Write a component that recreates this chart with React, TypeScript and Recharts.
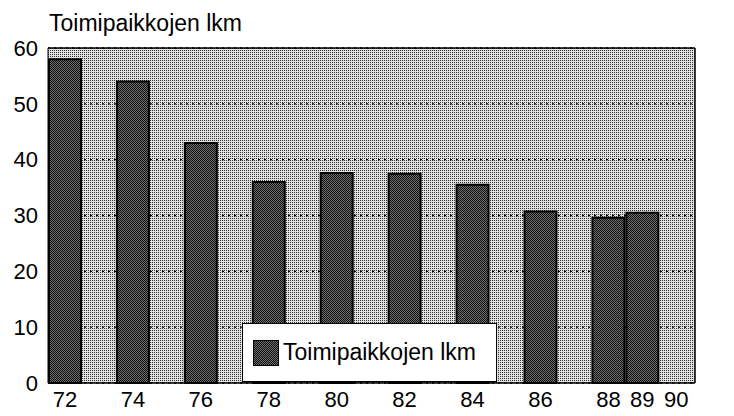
import {
  BarChart,
  Bar,
  XAxis,
  YAxis,
  CartesianGrid,
  ReferenceLine,
} from "recharts";

const YEARS = [72, 74, 76, 78, 80, 82, 84, 86, 88, 89];
const COUNTS = [58, 54, 43, 36, 37.6, 37.5, 35.5, 30.7, 29.6, 30.5];
const X_TICKS = [72, 74, 76, 78, 80, 82, 84, 86, 88, 89, 90];
const Y_TICKS = [0, 10, 20, 30, 40, 50, 60];
const SERIES_NAME = "Toimipaikkojen lkm";

const FONT = "'Liberation Sans', Arial, sans-serif";

const data = YEARS.map((year, i) => ({ year, count: COUNTS[i] }));

const tickStyle = { fontFamily: FONT, fontSize: 22, fill: "#000" };

const LegendBox = () => (
  <div
    style={{
      position: "absolute",
      left: 242,
      top: 323,
      width: 255,
      height: 59,
      boxSizing: "border-box",
      background: "#fff",
      border: "1.5px solid #000",
      display: "flex",
      alignItems: "center",
      paddingLeft: 10,
      fontFamily: FONT,
      fontSize: 23,
      color: "#000",
    }}
  >
    <svg width={26} height={26} style={{ marginRight: 4 }}>
      <rect x={0.5} y={0.5} width={25} height={25} fill="url(#barDots)" stroke="#000" />
    </svg>
    {SERIES_NAME}
  </div>
);

const App = () => {
  return (
    <div style={{ position: "absolute", left: 0, top: 0, width: 734, height: 416, background: "#fff" }}>
      <div
        style={{
          position: "absolute",
          left: 49,
          top: 9,
          fontFamily: FONT,
          fontSize: 23,
          color: "#000",
          lineHeight: "28px",
        }}
      >
        {SERIES_NAME}
      </div>
      <BarChart
        width={734}
        height={416}
        data={data}
        margin={{ top: 48, right: 0, left: 8, bottom: 0 }}
      >
        <defs>
          <pattern id="bgDots" width="2" height="2" patternUnits="userSpaceOnUse">
            <rect width="2" height="2" fill="#e0e0e0" />
            <rect width="1" height="1" fill="#333" />
          </pattern>
          <pattern id="barDots" width="2" height="2" patternUnits="userSpaceOnUse">
            <rect width="2" height="2" fill="#6e6e6e" />
            <rect width="1" height="1" fill="#111" />
            <rect x="1" y="1" width="1" height="1" fill="#111" />
          </pattern>
        </defs>
        <CartesianGrid
          yAxisId="left"
          vertical={false}
          fill="url(#bgDots)"
          fillOpacity={1}
          stroke="#000"
          strokeDasharray="2 4"
          strokeWidth={1.3}
        />
        <XAxis
          dataKey="year"
          type="number"
          domain={[71.5, 90.55]}
          allowDataOverflow
          ticks={X_TICKS}
          interval={0}
          height={33}
          tickLine={false}
          tickSize={6}
          tickMargin={2}
          axisLine={{ stroke: "#000", strokeWidth: 1.5 }}
          tick={tickStyle}
        />
        <YAxis
          yAxisId="left"
          domain={[0, 60]}
          ticks={Y_TICKS}
          width={40}
          tickLine={false}
          tickSize={6}
          tickMargin={4}
          axisLine={{ stroke: "#000", strokeWidth: 1 }}
          tick={tickStyle}
        />
        <YAxis
          yAxisId="right"
          orientation="right"
          domain={[0, 60]}
          ticks={Y_TICKS}
          width={39}
          tickLine={false}
          tickSize={3}
          tickMargin={2}
          axisLine={{ stroke: "#000", strokeWidth: 1.5 }}
          tick={tickStyle}
        />
        <ReferenceLine yAxisId="left" y={60} stroke="#000" strokeWidth={1.5} />
        <Bar
          yAxisId="left"
          dataKey="count"
          name={SERIES_NAME}
          barSize={32}
          fill="url(#barDots)"
          stroke="#000"
          strokeWidth={2}
          isAnimationActive={false}
        />
      </BarChart>
      <LegendBox />
    </div>
  );
};

export default App;
